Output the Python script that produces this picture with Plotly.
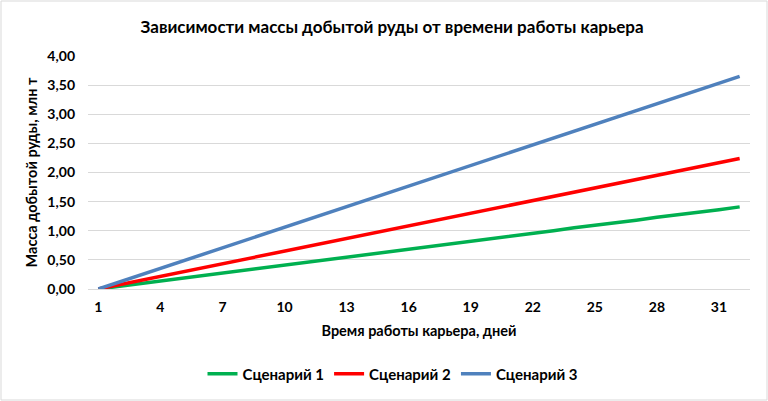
import plotly.graph_objects as go

days = list(range(1, 33))
tick_days = [1, 4, 7, 10, 13, 16, 19, 22, 25, 28, 31]

scenario1 = [0.0, 0.045, 0.091, 0.136, 0.182, 0.227, 0.273, 0.318, 0.364, 0.409, 0.455,
             0.500, 0.546, 0.591, 0.637, 0.682, 0.728, 0.773, 0.819, 0.864, 0.910, 0.955,
             1.00, 1.05, 1.09, 1.14, 1.18, 1.23, 1.27, 1.32, 1.36, 1.41]
scenario2 = [0.0, 0.072, 0.145, 0.217, 0.289, 0.362, 0.434, 0.506, 0.578, 0.651, 0.723,
             0.795, 0.868, 0.940, 1.01, 1.08, 1.16, 1.23, 1.30, 1.37, 1.45, 1.52,
             1.59, 1.66, 1.74, 1.81, 1.88, 1.95, 2.02, 2.10, 2.17, 2.24]
scenario3 = [0.0, 0.118, 0.236, 0.353, 0.471, 0.589, 0.707, 0.824, 0.942, 1.06, 1.18,
             1.30, 1.41, 1.53, 1.65, 1.77, 1.88, 2.00, 2.12, 2.24, 2.36, 2.47,
             2.59, 2.71, 2.83, 2.94, 3.06, 3.18, 3.30, 3.41, 3.53, 3.65]

names = ["Сценарий 1", "Сценарий 2", "Сценарий 3"]
colors = ["#00b050", "#ff0000", "#4f81bd"]

FONT = "Lato"
fig = go.Figure()
for name, vals, col in zip(names, [scenario1, scenario2, scenario3], colors):
    fig.add_trace(go.Scatter(x=days, y=vals, mode="lines", name=name,
                             line=dict(color=col, width=3.5)))

W, H = 768, 401
L, R, T, B = 88, 18, 56, 112
pw, ph = W - L - R, H - T - B

def px_to_paper_x(px):
    return (px - L) / pw

def py_to_paper_y(py):
    return (H - B - py) / ph

fig.update_layout(
    width=W, height=H,
    margin=dict(l=L, r=R, t=T, b=B),
    paper_bgcolor="white", plot_bgcolor="white",
    separators=", ",
    font=dict(family=FONT, size=14, color="#000000"),
    title=dict(text="<b>Зависимости массы добытой руды от времени работы карьера</b>",
               x=392 / W, xref="container", xanchor="center",
               y=1 - 27 / H, yref="container", yanchor="middle",
               font=dict(family=FONT, size=17, color="#000000")),
    xaxis=dict(range=[0.5, 32.5], tickvals=tick_days, ticktext=[f"<b>{d}</b>" for d in tick_days],
               showgrid=False, zeroline=False, showline=False, ticks="",
               ticklabelstandoff=8,
               tickfont=dict(family=FONT, size=14),
               title=dict(text="<b>Время работы карьера, дней</b>", standoff=11,
                          font=dict(family=FONT, size=14.5))),
    yaxis=dict(range=[0, 4.0], dtick=0.5, tickformat=".2f",
               showgrid=True, gridcolor="#d9d9d9", gridwidth=1,
               zeroline=True, zerolinecolor="#d9d9d9", zerolinewidth=1,
               showline=False, ticks="", ticklabelstandoff=12,
               tickfont=dict(family=FONT, size=14, weight="bold"),
               title=dict(text="<b>Масса добытой руды, млн т</b>", standoff=6,
                          font=dict(family=FONT, size=14.5))),
    legend=dict(orientation="h", x=393 / W, xref="container", xanchor="center",
                y=1 - 374 / H, yref="container", yanchor="middle",
                font=dict(family=FONT, size=15, weight="bold"),
                itemwidth=30, tracegroupgap=0),
    showlegend=True,
)

fig.add_shape(type="rect", xref="paper", yref="paper",
              x0=px_to_paper_x(1), x1=px_to_paper_x(767),
              y0=py_to_paper_y(400), y1=py_to_paper_y(1),
              line=dict(color="#d9d9d9", width=1), fillcolor="rgba(0,0,0,0)", layer="below")

fig.write_html("out.html")
